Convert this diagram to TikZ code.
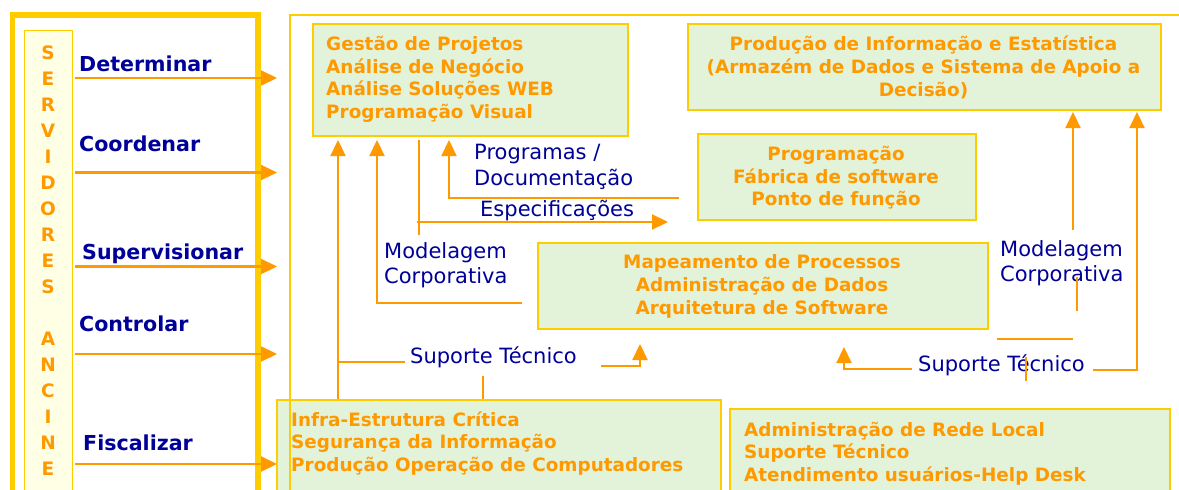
\documentclass[tikz,border=0pt]{standalone}
\usepackage{fontspec}
\setmainfont{DejaVu Sans}
\usetikzlibrary{arrows.meta}
\definecolor{ora}{HTML}{FF9900}
\definecolor{txtblue}{HTML}{000099}
\definecolor{frameyel}{HTML}{FFCC00}
\definecolor{boxgreen}{HTML}{E3F3D9}
\definecolor{stripfill}{HTML}{FFFFE5}
\begin{document}
\begin{tikzpicture}[x=1pt,y=-1pt,
  gbox/.style={draw=frameyel, fill=boxgreen, line width=2pt, inner sep=0, anchor=north west},
  otext/.style={text=ora, font=\fontsize{18.4}{22.7}\selectfont\bfseries, inner sep=0},
  verb/.style={text=txtblue, font=\fontsize{20.6}{24}\selectfont\bfseries, inner sep=0, anchor=base west},
  lbl/.style={text=txtblue, font=\fontsize{21}{26}\selectfont, inner sep=0},
  conn/.style={draw=ora, line width=2.2pt},
  arr/.style={conn, -{Triangle[length=16pt,width=15pt]}},
]
\useasboundingbox (0,0) rectangle (1179,490);
\fill[white] (0,0) rectangle (1179,490);

% left frame and strip
\draw[frameyel, line width=5.5pt] (12.5,15) rectangle (258,530);
\node[draw=frameyel, fill=stripfill, line width=1.2pt, anchor=north west, minimum width=48, minimum height=480, inner sep=0] (strip) at (24,30) {};
\node[text=ora, font=\fontsize{18.5}{26}\selectfont\bfseries, align=center, anchor=north, inner sep=0] (servtxt) at (48,45.3) {S\\E\\R\\V\\I\\D\\O\\R\\E\\S\\\mbox{}\\A\\N\\C\\I\\N\\E};

% verbs
\node[verb] (det) at (79,71) {Determinar};
\node[verb] (coo) at (79,151) {Coordenar};
\node[verb] (sup) at (82,259) {Supervisionar};
\node[verb] (con) at (79,331.5) {Controlar};
\node[verb] (fis) at (83,450.5) {Fiscalizar};

\coordinate (a1s) at (75,78);    \coordinate (a1e) at (277,78);
\coordinate (a2s) at (75,172.5); \coordinate (a2e) at (277,172.5);
\coordinate (a3s) at (75,266.5); \coordinate (a3e) at (277,266.5);
\coordinate (a4s) at (75,354);   \coordinate (a4e) at (277,354);
\coordinate (a5s) at (75,464);   \coordinate (a5e) at (277,464);
\foreach \i in {1,...,5} \draw[arr] (a\i s) -- (a\i e);

% boxes
\node[gbox, minimum width=315, minimum height=112] (gp) at (312,23) {};
\node[gbox, minimum width=473, minimum height=86] (pie) at (687,23) {};
\node[gbox, minimum width=278, minimum height=86] (prog) at (697,133) {};
\node[gbox, minimum width=450, minimum height=86] (map) at (537,242) {};
\node[gbox, minimum width=444, minimum height=120] (infra) at (276,399) {};
\node[gbox, minimum width=440, minimum height=110] (adm) at (729,408) {};

% right frame
\draw[frameyel, line width=1.5pt] (290,530) -- (290,15) -- (1190,15);

% box texts
\node[otext, anchor=north west, align=left] (gptxt) at (326,35.8) {Gestão de Projetos\\Análise de Negócio\\Análise Soluções WEB\\Programação Visual};
\node[otext, anchor=north, align=center, font=\fontsize{18.4}{23}\selectfont\bfseries] (pietxt) at (923.5,35.3) {Produção de Informação e Estatística\\(Armazém de Dados e Sistema de Apoio a\\Decisão)};
\node[otext, anchor=north, align=center] (progtxt) at (836,146) {Programação\\Fábrica de software\\Ponto de função};
\node[otext, anchor=north, align=center] (maptxt) at (762,254.8) {Mapeamento de Processos\\Administração de Dados\\Arquitetura de Software};
\node[otext, anchor=north west, align=left, font=\fontsize{18.4}{22.5}\selectfont\bfseries] (infratxt) at (291,411.3) {Infra-Estrutura Crítica\\Segurança da Informação\\Produção Operação de Computadores};
\node[otext, anchor=north west, align=left, font=\fontsize{18.4}{22.5}\selectfont\bfseries] (admtxt) at (744,421.8) {Administração de Rede Local\\Suporte Técnico\\Atendimento usuários-Help Desk};

% blue labels
\node[lbl, anchor=north west, align=left] (progdoc) at (474,144) {Programas /\\Documentação};
\node[lbl, anchor=base west] (espec) at (480,216) {Especificações};
\node[lbl, anchor=north west, align=left, font=\fontsize{21}{25}\selectfont] (modl) at (384,242) {Modelagem\\Corporativa};
\node[lbl, anchor=base west] (supl) at (410,363) {Suporte Técnico};
\node[lbl, anchor=north west, align=left, font=\fontsize{21}{25}\selectfont] (modr) at (1000,240.6) {Modelagem\\Corporativa};
\node[lbl, anchor=base west] (supr) at (918,371) {Suporte Técnico};

% connectors: left Suporte Tecnico
\coordinate (ls1) at (483,376);
\coordinate (ls2) at (405,362);
\coordinate (gpa1) at (338,140);
\coordinate (ls3) at (601,366);
\coordinate (mapa1) at (640,344);
\draw[conn] (infra.north -| ls1) -- (ls1);
\draw[arr] (infra.north -| gpa1) -- (gpa1);
\draw[conn] (ls2) -- (ls2 -| gpa1);
\draw[arr] (ls3) -| (mapa1);

% left Modelagem
\coordinate (ml1) at (522,303);
\coordinate (gpa2) at (377,140);
\draw[arr] (ml1) -| (gpa2);

% Especificacoes
\coordinate (es0) at (419,140);
\coordinate (es1) at (419,235);
\coordinate (es2) at (417,222);
\coordinate (proga) at (668,222);
\draw[conn] (es0) -- (es1);
\draw[arr] (es2) -- (proga);

% Programas / Documentacao
\coordinate (pd0) at (679,198);
\coordinate (gpa3) at (449,140);
\draw[arr] (pd0) -| (gpa3);

% right Modelagem
\coordinate (mr0) at (1073,230);
\coordinate (piea1) at (1073,112);
\coordinate (mr1) at (1077,277);
\coordinate (mr2) at (1077,311);
\coordinate (mr3) at (997,339);
\coordinate (mr4) at (1073,339);
\draw[arr] (mr0) -- (piea1);
\draw[conn] (mr1) -- (mr2);
\draw[conn] (mr3) -- (mr4);

% right Suporte Tecnico
\coordinate (rs0) at (1026,381);
\coordinate (rs1) at (1026,357);
\coordinate (rs2) at (1093,370);
\coordinate (piea2) at (1137,112);
\coordinate (rs3) at (912,369);
\coordinate (mapa2) at (844,347);
\draw[conn] (rs0) -- (rs1);
\draw[arr] (rs2) -| (piea2);
\draw[arr] (rs3) -| (mapa2);
\end{tikzpicture}
\end{document}
